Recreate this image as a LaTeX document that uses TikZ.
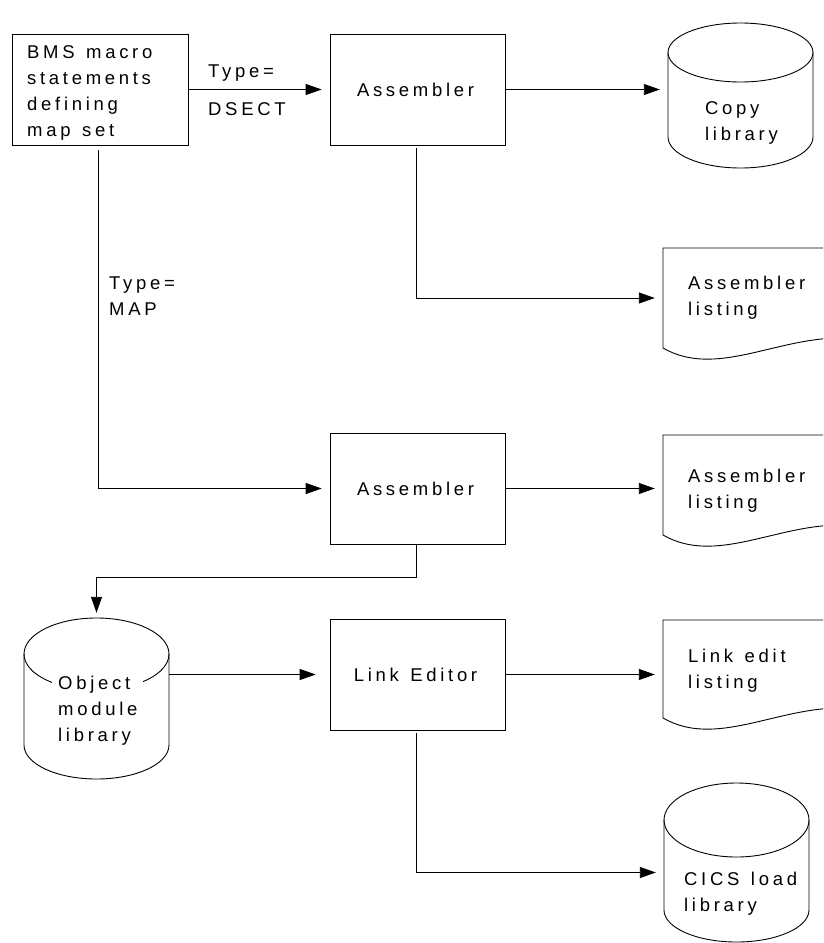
\documentclass[tikz,border=0pt]{standalone}
\usepackage{fontspec}
\setmainfont{Liberation Sans}[LetterSpace=20]
\usetikzlibrary{arrows.meta,calc}
\newcommand\wsp{\hspace{11.5pt}}
\tikzset{
  txt/.style={font=\fontsize{18.5pt}{26pt}\selectfont, inner sep=0pt, align=left},
  procbox/.style={draw, line width=0.9pt, minimum width=175.7pt, minimum height=111pt, inner sep=0pt, font=\fontsize{18.5pt}{26pt}\selectfont},
  ghost/.style={inner sep=0pt, draw=none},
  line/.style={line width=0.9pt},
  arr/.style={line, -{Triangle[length=16pt,width=11pt]}, shorten >=8pt},
}
\newcommand\drumshape[6]{%
  \node[ghost, minimum width=145pt, minimum height={((#4+#6)-(#3-#5))*1pt}] (#1) at (#2,{((#3-#5)+(#4+#6))/2}) {};
  \draw[line] ({#2-72.5},#3) -- ({#2-72.5},#4) arc[start angle=180, end angle=0, x radius=72.5, y radius=#6] -- ({#2+72.5},#3);
  \draw[line] (#2,#3) ellipse[x radius=72.5, y radius=#5];
}
\newcommand\docshape[4]{%
  \node[ghost, minimum width=177pt, minimum height={(#4-#3)*1pt}] (#1) at ({#2+88.5},{(#3+#4)/2}) {};
  \draw[line] (#2,#3) -- (#2,#4) .. controls (715,{#4+30}) and (775,{#4-10}) .. (840,{#4-10}) -- (840,#3) -- cycle;
}
\begin{document}
\begin{tikzpicture}[x=1pt,y=-1pt]
\useasboundingbox (0,0) rectangle (823,943);
\clip (0,0) rectangle (823,943);

% process boxes
\node[procbox] (bms) at (100.5,89.5) {};
\node[txt, anchor=west] (bmst) at (27,92.5) {BMS\wsp macro\\statements\\defining\\map\wsp set};
\node[procbox] (asm1) at (418,89.5) {\hspace*{-5pt}Assembler};
\node[procbox] (asm2) at (418,488.5) {\hspace*{-5pt}Assembler};
\node[procbox] (link) at (418,674.5) {\hspace*{-5pt}Link\wsp Editor};

% storage cylinders
\drumshape{copy}{740.5}{52.5}{137}{29.5}{31}
\drumshape{obj}{96.5}{654}{745}{36}{34}
\drumshape{cics}{736.5}{820}{910}{37}{32}

% listings
\docshape{lst1}{663}{248}{348}
\docshape{lst2}{663}{435}{535}
\docshape{lst3}{663}{620}{718}

% texts in shapes
\node[txt, anchor=west] (copyt) at (705,123) {Copy\\library};
\node[txt, anchor=west, fill=white, inner xsep=6pt, inner ysep=1pt] (objt) at (52,710.5) {Object\\module\\library};
\node[txt, anchor=west] (cicst) at (684,893.5) {CICS\wsp load\\library};
\node[txt, anchor=west] (lst1t) at (688,298) {Assembler\\listing};
\node[txt, anchor=west] (lst2t) at (688,490.5) {Assembler\\listing};
\node[txt, anchor=west] (lst3t) at (688,671) {Link\wsp edit\\listing};

% connector labels
\node[txt, anchor=west] (lbl1) at (208,73) {Type=};
\node[txt, anchor=west] (lbl2) at (208,109) {DSECT};
\node[txt, anchor=west] (lbl3) at (109,296) {Type=\\MAP};

% connectors
\draw[arr] (bms.east) -- (asm1.west);
\draw[arr] ([xshift=-2.5pt,yshift=-5pt]bms.south) |- (asm2.west);
\draw[arr] (asm1.east) -- (asm1.east -| copy.west);
\draw[arr] ([xshift=-2pt,yshift=-3pt]asm1.south) |- (lst1.west);
\draw[arr] (asm2.east) -- (asm2.east -| lst2.west);
\draw[arr, shorten >=5pt] ([xshift=-2pt]asm2.south) -- ++(0,33) -| (obj.north);
\draw[arr, shorten >=14pt] (link.west -| obj.east) -- (link.west);
\draw[arr] (link.east) -- (link.east -| lst3.west);
\draw[arr] ([xshift=-2pt,yshift=-3pt]link.south) |- ([yshift=-10pt]cics.west);
\end{tikzpicture}
\end{document}
